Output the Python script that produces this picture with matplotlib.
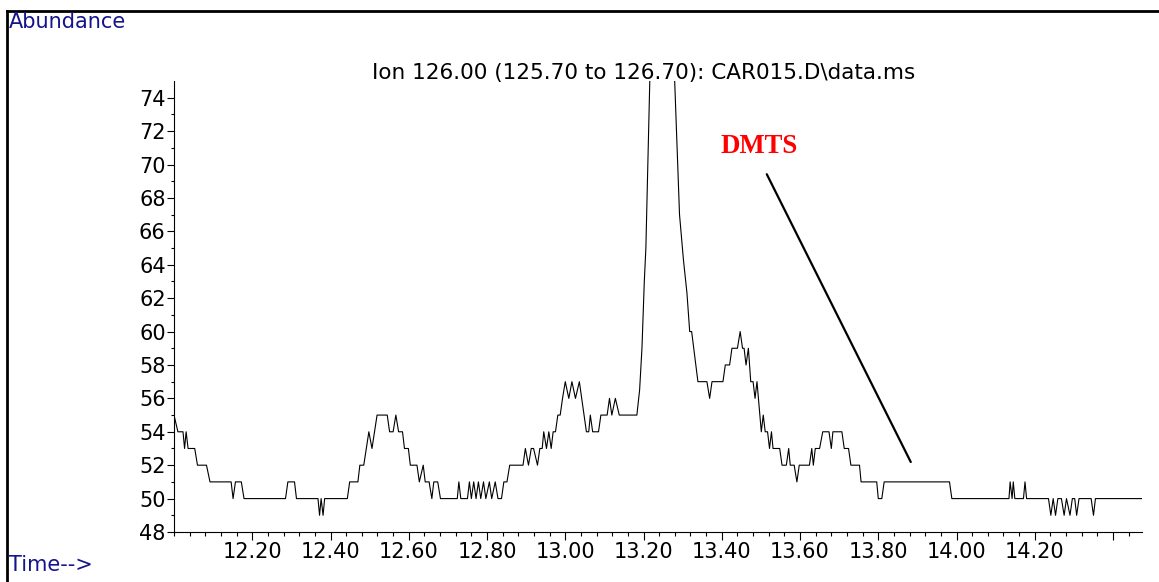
import matplotlib.pyplot as plt
from matplotlib.lines import Line2D
from matplotlib.ticker import FixedLocator, MultipleLocator

# ion 126 trace (vertices), time in min
time_min = [
    12.000, 12.010, 12.023, 12.027, 12.031, 12.036, 12.053, 12.060, 12.083, 12.092,
    12.146, 12.151, 12.157, 12.172, 12.179, 12.285, 12.291, 12.308, 12.313, 12.368,
    12.372, 12.376, 12.381, 12.385, 12.443, 12.449, 12.470, 12.475, 12.485, 12.498,
    12.506, 12.519, 12.545, 12.551, 12.560, 12.567, 12.574, 12.584, 12.589, 12.599,
    12.604, 12.621, 12.627, 12.637, 12.642, 12.652, 12.659, 12.664, 12.674, 12.681,
    12.724, 12.728, 12.733, 12.750, 12.755, 12.760, 12.766, 12.772, 12.778, 12.784,
    12.791, 12.797, 12.806, 12.812, 12.821, 12.828, 12.837, 12.843, 12.851, 12.858,
    12.892, 12.898, 12.906, 12.913, 12.919, 12.929, 12.935, 12.941, 12.945, 12.952,
    12.958, 12.964, 12.969, 12.975, 12.981, 12.987, 12.993, 13.000, 13.009, 13.017,
    13.026, 13.036, 13.054, 13.060, 13.064, 13.070, 13.085, 13.091, 13.107, 13.113,
    13.119, 13.128, 13.138, 13.183, 13.190, 13.196, 13.202, 13.206, 13.221, 13.248,
    13.275, 13.292, 13.302, 13.311, 13.318, 13.323, 13.339, 13.362, 13.369, 13.375,
    13.403, 13.409, 13.420, 13.426, 13.440, 13.447, 13.453, 13.457, 13.462, 13.468,
    13.474, 13.480, 13.485, 13.490, 13.501, 13.506, 13.511, 13.517, 13.522, 13.527,
    13.531, 13.548, 13.554, 13.565, 13.571, 13.575, 13.585, 13.592, 13.598, 13.624,
    13.630, 13.634, 13.639, 13.650, 13.658, 13.674, 13.680, 13.684, 13.707, 13.713,
    13.724, 13.730, 13.752, 13.756, 13.796, 13.800, 13.809, 13.815, 13.982, 13.988,
    14.134, 14.137, 14.142, 14.145, 14.149, 14.171, 14.175, 14.179, 14.235, 14.241,
    14.247, 14.253, 14.259, 14.268, 14.275, 14.281, 14.290, 14.296, 14.302, 14.307,
    14.313, 14.344, 14.350, 14.355, 14.474,
]
abundance = [
    55, 54, 54, 53, 54, 53, 53, 52, 52, 51,
    51, 50, 51, 51, 50, 50, 51, 51, 50, 50,
    49, 50, 49, 50, 50, 51, 51, 52, 52, 54,
    53, 55, 55, 54, 54, 55, 54, 54, 53, 53,
    52, 52, 51, 52, 51, 51, 50, 51, 51, 50,
    50, 51, 50, 50, 51, 50, 51, 50, 51, 50,
    51, 50, 51, 50, 51, 50, 50, 51, 51, 52,
    52, 53, 52, 53, 53, 52, 53, 53, 54, 53,
    54, 53, 54, 54, 55, 55, 56, 57, 56, 57,
    56, 57, 54, 54, 55, 54, 54, 55, 55, 56,
    55, 56, 55, 55, 56.5, 59, 63, 65, 80, 110,   # peak top is off scale
    78, 67, 64.3, 62.3, 60, 60, 57, 57, 56, 57,
    57, 58, 58, 59, 59, 60, 59, 59, 58, 59,
    57, 57, 56, 57, 54, 55, 54, 54, 53, 54,
    53, 53, 52, 52, 53, 52, 52, 51, 52, 52,
    53, 52, 53, 53, 54, 54, 53, 54, 54, 53,
    53, 52, 52, 51, 51, 50, 50, 51, 51, 50,
    50, 51, 50, 51, 50, 50, 51, 50, 50, 49,
    50, 49, 50, 50, 49, 50, 49, 50, 50, 49,
    50, 50, 49, 50, 50,
]

x_ticks = [12.20, 12.40, 12.60, 12.80, 13.00, 13.20, 13.40, 13.60, 13.80, 14.00, 14.20, 14.40]
x_labels = ['12.20', '12.40', '12.60', '12.80', '13.00', '13.20', '13.40',
            '13.60', '13.80', '14.00', '14.20', '']
y_ticks = list(range(48, 75, 2))

title = 'Ion 126.00 (125.70 to 126.70): CAR015.D\\data.ms'
label = 'DMTS'
label_pos = (13.396, 70.68)
pointer_from = (13.515, 69.42)
pointer_to = (13.883, 52.19)

W, H = 1159, 582
navy = '#14148c'

fig = plt.figure(figsize=(W / 100, H / 100), dpi=100)
ax = fig.add_axes([174 / W, 1 - 532 / H, (1142 - 174) / W, (532 - 81) / H])

ax.plot(time_min, abundance, color='black', lw=0.8)
ax.set_xlim(12.0, 14.474)
ax.set_ylim(48, 75)

ax.xaxis.set_major_locator(FixedLocator(x_ticks))
ax.set_xticklabels(x_labels)
ax.xaxis.set_minor_locator(MultipleLocator(0.04))
ax.set_yticks(y_ticks)
ax.yaxis.set_minor_locator(FixedLocator(range(49, 75, 2)))

for side in ['top', 'right']:
    ax.spines[side].set_visible(False)
for side in ['left', 'bottom']:
    ax.spines[side].set_linewidth(0.8)

ax.tick_params(axis='x', which='major', length=6, width=0.8, pad=1.5)
ax.tick_params(axis='x', which='minor', length=3, width=0.8)
ax.tick_params(axis='y', which='major', length=5, width=0.8, pad=1)
ax.tick_params(axis='y', which='minor', length=2.5, width=0.8)
for lab in ax.get_xticklabels() + ax.get_yticklabels():
    lab.set_fontfamily('DejaVu Sans')
    lab.set_fontsize(15)

fig.text(644 / W, 1 - 79 / H, title, ha='center', va='baseline',
         family='DejaVu Sans', fontsize=15.5)
fig.text(9 / W, 1 - 27.5 / H, 'Abundance', ha='left', va='baseline',
         family='DejaVu Sans', fontsize=15, color=navy)
fig.text(9 / W, 1 - 571 / H, 'Time-->', ha='left', va='baseline',
         family='DejaVu Sans', fontsize=15, color=navy)

ax.text(*label_pos, label, ha='left', va='baseline', color='red',
        family='Liberation Serif', fontweight='bold', fontsize=19.3)
ax.annotate('', xy=pointer_to, xytext=pointer_from,
            arrowprops=dict(arrowstyle='-', color='black', lw=1.6,
                            shrinkA=0, shrinkB=0))

# printout frame (top and left edges)
fig.add_artist(Line2D([7 / W, 7 / W], [0, 1 - 11 / H], transform=fig.transFigure,
                      color='black', lw=2))
fig.add_artist(Line2D([7 / W, 1], [1 - 11 / H, 1 - 11 / H], transform=fig.transFigure,
                      color='black', lw=2))

fig.savefig('out.png', dpi=100)
